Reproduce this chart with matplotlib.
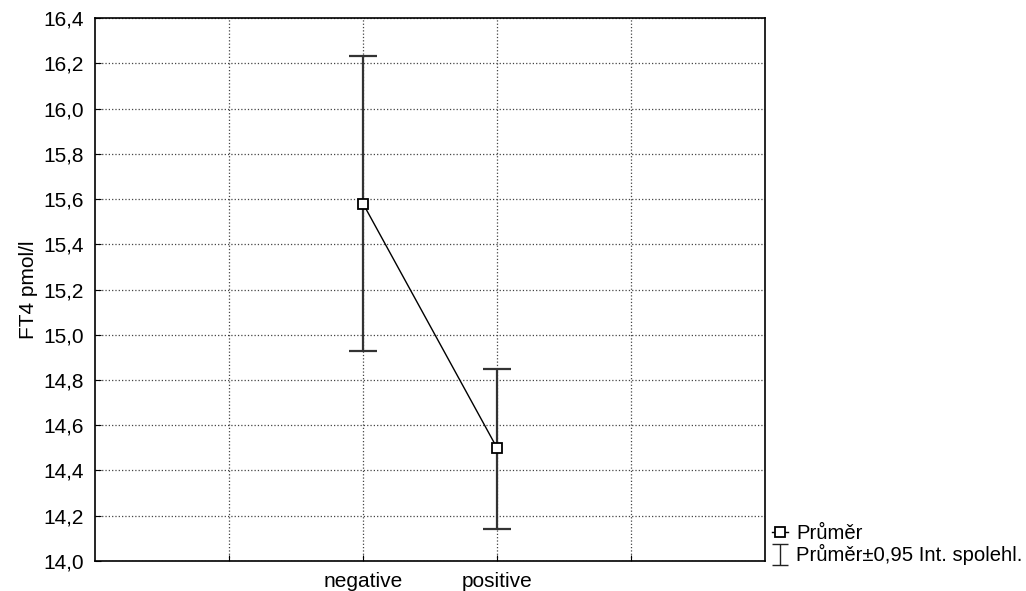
import numpy as np
import matplotlib.pyplot as plt
from matplotlib.ticker import FuncFormatter

plt.rcParams['font.family'] = ['Liberation Sans', 'DejaVu Sans']

groups = ['negative', 'positive']
means = [15.58, 14.50]
ci_low = [14.93, 14.14]
ci_high = [16.23, 14.85]

x = list(range(len(groups)))
err_lo = [m - lo for m, lo in zip(means, ci_low)]
err_hi = [hi - m for m, hi in zip(means, ci_high)]

fig = plt.figure(figsize=(10.26, 5.91), dpi=100)
ax = fig.add_axes([0.0926, 0.0508, 0.653, 0.9187])

ax.errorbar(x, means, yerr=[err_lo, err_hi], fmt='none', ecolor='#333333',
            elinewidth=1.6, capsize=10, capthick=1.6, zorder=3)
line, = ax.plot(x, means, color='black', linewidth=1, marker='s', markersize=7,
                markerfacecolor='white', markeredgecolor='black', markeredgewidth=1.3,
                label='Průměr', zorder=4)

# small proxy handle for the legend entry of the confidence interval
proxy = ax.errorbar([np.nan], [np.nan], yerr=[[np.nan], [np.nan]], fmt='none',
                    ecolor='#222222', elinewidth=1, capsize=6, capthick=1,
                    label='Průměr±0,95 Int. spolehl.')

ax.set_xlim(-2, 3)
ax.set_ylim(14.0, 16.4)
ax.set_xticks([-1, 0, 1, 2])
ax.set_xticklabels(['', groups[0], groups[1], ''])
ax.set_yticks([14.0 + 0.2 * i for i in range(13)])
ax.yaxis.set_major_formatter(FuncFormatter(lambda v, p: f'{v:.1f}'.replace('.', ',')))
ax.tick_params(labelsize=15, length=4, direction='in', color='black', pad=8)
ax.grid(True, linestyle=':', color='#444444', linewidth=0.9)
ax.set_axisbelow(True)
ax.set_ylabel('FT4 pmol/l', fontsize=15, labelpad=4)
for s in ax.spines.values():
    s.set_linewidth(1.2)

ax.legend(handles=[line, proxy], loc='lower left', bbox_to_anchor=(0.995, -0.027),
          frameon=False, fontsize=14.6, handlelength=0.8, handletextpad=0.4,
          labelspacing=0.05, borderaxespad=0.3, borderpad=0.2)

fig.savefig('out.png', dpi=100)
